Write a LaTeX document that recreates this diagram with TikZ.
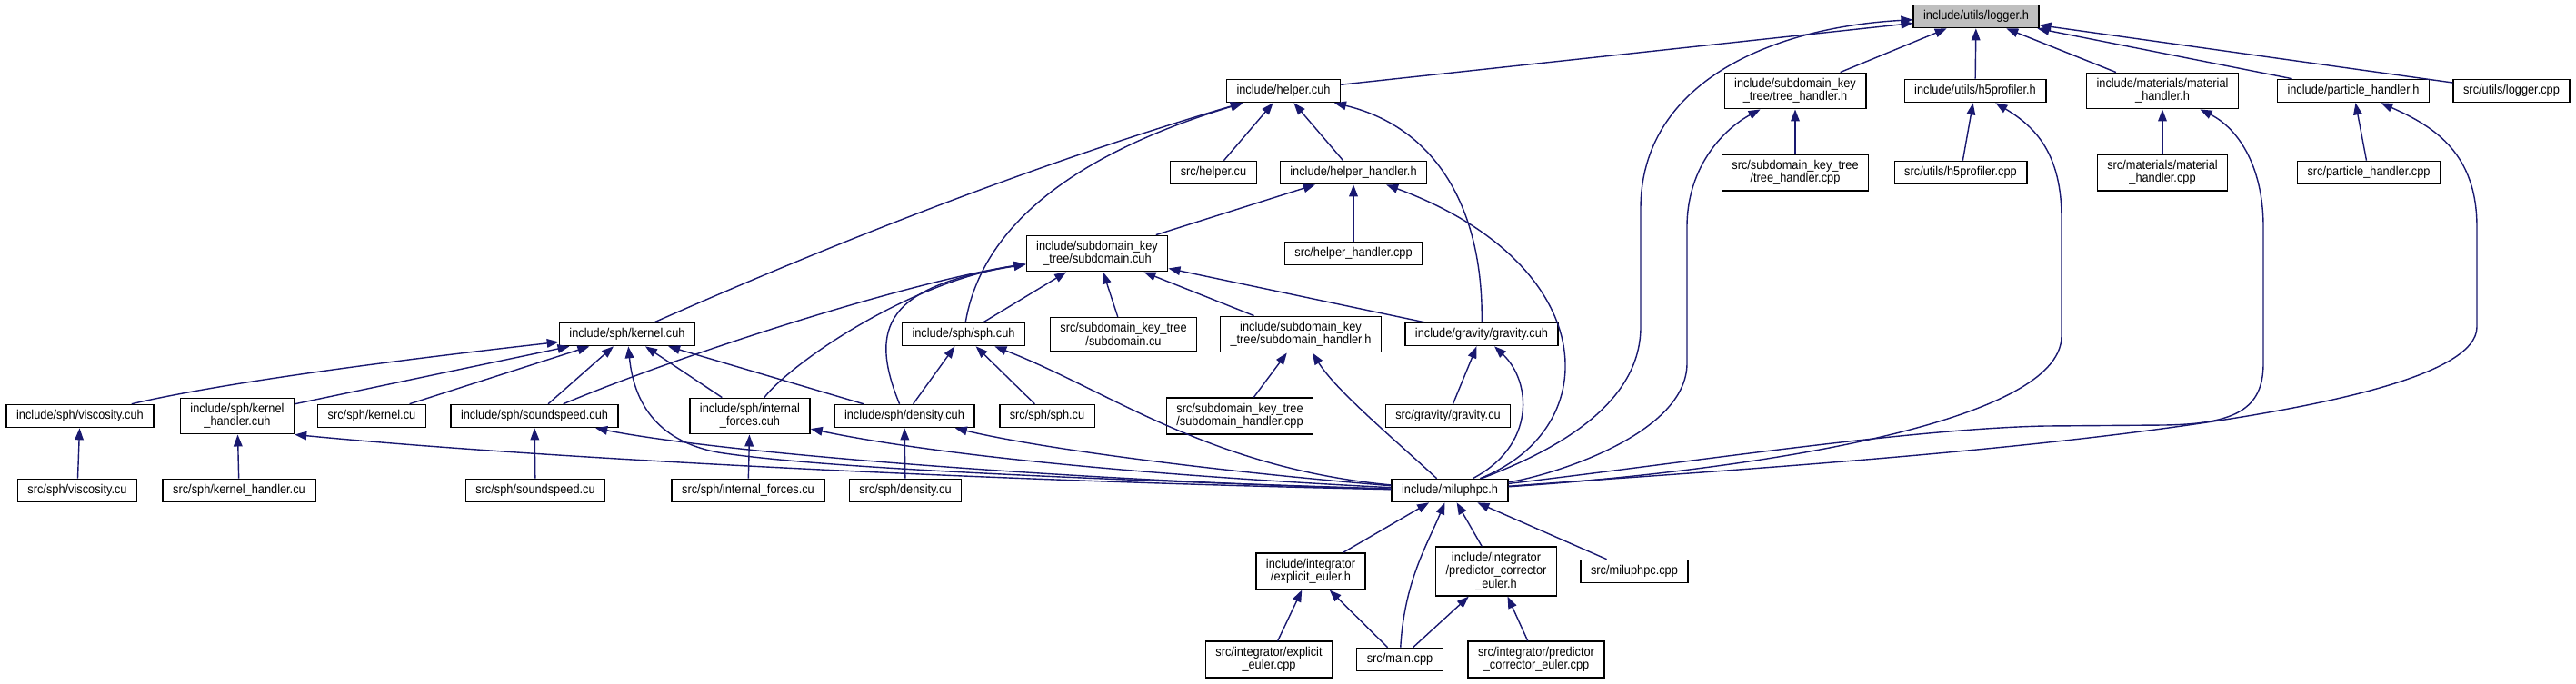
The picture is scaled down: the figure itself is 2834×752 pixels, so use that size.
\documentclass[tikz,border=0pt]{standalone}
\usepackage{fontspec}
\setmainfont{Liberation Sans}[FakeStretch=0.9]
\usetikzlibrary{arrows.meta}
\definecolor{kante}{HTML}{191970}
\definecolor{wurzel}{HTML}{BFBFBF}

\begin{document}
\begin{tikzpicture}[x=0.5pt, y=-0.5pt,
    datei/.style={draw=black, line width=0.7pt, fill=white, align=center,
        font=\fontsize{7.1}{7.2}\selectfont, inner xsep=5.5pt, inner ysep=3pt,
        minimum height=12.5pt},
    dep/.style={draw=kante, line width=0.7pt, -{Triangle[length=6.5pt,width=4.8pt]}}]

    % 0. Rahmen (Bildgroesse in Pixeln des Originals)
    \path[use as bounding box, fill=white] (0,0) rectangle (2834,752);

    % 1. Wurzel und erste Ebene
    \node[datei, fill=wurzel] (logger) at (2174,18) {include/utils/logger.h};
    \node[datei] (helpercuh) at (1412,100) {include/helper.cuh};
    \node[datei] (treeh) at (1975,100) {include/subdomain\_key\\\_tree/tree\_handler.h};
    \node[datei] (hfiveh) at (2173,100) {include/utils/h5profiler.h};
    \node[datei] (materialh) at (2379,100) {include/materials/material\\\_handler.h};
    \node[datei] (particleh) at (2589,100) {include/particle\_handler.h};
    \node[datei] (loggercpp) at (2763,100) {src/utils/logger.cpp};

    % 2. Zweite Ebene
    \node[datei] (helpercu) at (1335,190) {src/helper.cu};
    \node[datei] (helperhh) at (1489,190) {include/helper\_handler.h};
    \node[datei] (treecpp) at (1975,190) {src/subdomain\_key\_tree\\/tree\_handler.cpp};
    \node[datei] (hfivecpp) at (2157,190) {src/utils/h5profiler.cpp};
    \node[datei] (materialcpp) at (2379,190) {src/materials/material\\\_handler.cpp};
    \node[datei] (particlecpp) at (2606,190) {src/particle\_handler.cpp};

    % 3. Subdomain-Ebene
    \node[datei] (subdomaincuh) at (1207,279) {include/subdomain\_key\\\_tree/subdomain.cuh};
    \node[datei] (helperhcpp) at (1489,279) {src/helper\_handler.cpp};

    \node[datei] (kernelcuh) at (690,368) {include/sph/kernel.cuh};
    \node[datei] (sphcuh) at (1060,368) {include/sph/sph.cuh};
    \node[datei] (subdomaincu) at (1236,368) {src/subdomain\_key\_tree\\/subdomain.cu};
    \node[datei] (subdomainhh) at (1431,368) {include/subdomain\_key\\\_tree/subdomain\_handler.h};
    \node[datei] (gravitycuh) at (1630,368) {include/gravity/gravity.cuh};

    % 4. SPH-Ebene
    \node[datei] (viscositycuh) at (88,458) {include/sph/viscosity.cuh};
    \node[datei] (kernelhcuh) at (261,458) {include/sph/kernel\\\_handler.cuh};
    \node[datei] (kernelcu) at (409,458) {src/sph/kernel.cu};
    \node[datei] (soundspeedcuh) at (588,458) {include/sph/soundspeed.cuh};
    \node[datei] (internalcuh) at (825,458) {include/sph/internal\\\_forces.cuh};
    \node[datei] (densitycuh) at (995,458) {include/sph/density.cuh};
    \node[datei] (sphcu) at (1152,458) {src/sph/sph.cu};
    \node[datei] (subdomainhcpp) at (1364,458) {src/subdomain\_key\_tree\\/subdomain\_handler.cpp};
    \node[datei] (gravitycu) at (1593,458) {src/gravity/gravity.cu};

    \node[datei] (viscositycu) at (85,540) {src/sph/viscosity.cu};
    \node[datei] (kernelhcu) at (263,540) {src/sph/kernel\_handler.cu};
    \node[datei] (soundspeedcu) at (589,540) {src/sph/soundspeed.cu};
    \node[datei] (internalcu) at (823,540) {src/sph/internal\_forces.cu};
    \node[datei] (densitycu) at (996,540) {src/sph/density.cu};
    \node[datei] (miluphpch) at (1595,540) {include/miluphpc.h};

    % 5. Integratoren und main
    \node[datei] (expliciteulerh) at (1442,629) {include/integrator\\/explicit\_euler.h};
    \node[datei] (pceulerh) at (1646,629) {include/integrator\\/predictor\_corrector\\\_euler.h};
    \node[datei] (miluphpccpp) at (1798,629) {src/miluphpc.cpp};
    \node[datei] (expliciteulercpp) at (1396,726) {src/integrator/explicit\\\_euler.cpp};
    \node[datei] (maincpp) at (1540,726) {src/main.cpp};
    \node[datei] (pceulercpp) at (1690,726) {src/integrator/predictor\\\_corrector\_euler.cpp};

    % 6. Kanten zur Wurzel
    \draw[dep] (helpercuh) -- (logger);
    \draw[dep] (treeh) -- (logger);
    \draw[dep] (hfiveh) -- (logger);
    \draw[dep] (materialh) -- (logger);
    \draw[dep] (particleh) -- (logger);
    \draw[dep] (loggercpp) -- (logger);
    \draw[dep] (miluphpch) .. controls (1700,500) and (1805,450) .. (1805,360)
        -- (1805,230) .. controls (1805,90) and (1950,30) .. (logger);

    % 7. Kanten der oberen Ebenen
    \draw[dep] (treecpp) -- (treeh);
    \draw[dep] (hfivecpp) -- (hfiveh);
    \draw[dep] (materialcpp) -- (materialh);
    \draw[dep] (particlecpp) -- (particleh);
    \draw[dep] (miluphpch) .. controls (1700,525) and (1856,480) .. (1856,400)
        -- (1856,250) .. controls (1856,180) and (1900,140) .. (treeh);
    \draw[dep] (miluphpch) .. controls (1900,520) and (2268,470) .. (2268,370)
        -- (2268,240) .. controls (2268,170) and (2240,140) .. (hfiveh);
    \draw[dep] (miluphpch) .. controls (1850,510) and (2100,472) .. (2250,469)
        -- (2380,468) .. controls (2460,467) and (2490,450) .. (2490,400)
        -- (2490,250) .. controls (2490,180) and (2460,140) .. (materialh);
    \draw[dep] (miluphpch) .. controls (2000,510) and (2725,470) .. (2725,360)
        -- (2725,250) .. controls (2725,170) and (2680,140) .. (particleh);

    \draw[dep] (helpercu) -- (helpercuh);
    \draw[dep] (helperhh) -- (helpercuh);
    \draw[dep] (kernelcuh) .. controls (930,262) and (1150,177) .. (helpercuh);
    \draw[dep] (sphcuh) .. controls (1080,250) and (1180,170) .. (helpercuh);
    \draw[dep] (gravitycuh) .. controls (1632,230) and (1580,140) .. (helpercuh);

    \draw[dep] (subdomaincuh) -- (helperhh);
    \draw[dep] (helperhcpp) -- (helperhh);
    \draw[dep] (miluphpch) .. controls (1770,470) and (1760,290) .. (helperhh);

    % 8. Kanten zu subdomain.cuh
    \draw[dep] (sphcuh) -- (subdomaincuh);
    \draw[dep] (subdomaincu) -- (subdomaincuh);
    \draw[dep] (subdomainhh) -- (subdomaincuh);
    \draw[dep] (gravitycuh) -- (subdomaincuh);
    \draw[dep] (soundspeedcuh) .. controls (750,390) and (1000,310) .. (subdomaincuh);
    \draw[dep] (internalcuh) .. controls (870,400) and (1000,310) .. (subdomaincuh);
    \draw[dep] (densitycuh) .. controls (955,360) and (975,315) .. (subdomaincuh);

    % 9. Kanten der SPH-Ebene
    \draw[dep] (viscositycuh) .. controls (250,420) and (450,395) .. (kernelcuh);
    \draw[dep] (kernelhcuh) -- (kernelcuh);
    \draw[dep] (kernelcu) -- (kernelcuh);
    \draw[dep] (soundspeedcuh) -- (kernelcuh);
    \draw[dep] (internalcuh) -- (kernelcuh);
    \draw[dep] (densitycuh) -- (kernelcuh);
    \draw[dep] (densitycuh) -- (sphcuh);
    \draw[dep] (sphcu) -- (sphcuh);
    \draw[dep] (subdomainhcpp) -- (subdomainhh);
    \draw[dep] (gravitycu) -- (gravitycuh);

    \draw[dep] (viscositycu) -- (viscositycuh);
    \draw[dep] (kernelhcu) -- (kernelhcuh);
    \draw[dep] (soundspeedcu) -- (soundspeedcuh);
    \draw[dep] (internalcu) -- (internalcuh);
    \draw[dep] (densitycu) -- (densitycuh);

    % 10. Kanten von miluphpc.h
    \draw[dep] (miluphpch) .. controls (1100,525) and (880,512) .. (790,498)
        .. controls (720,485) and (697,440) .. (kernelcuh);
    \draw[dep] (miluphpch) .. controls (1100,530) and (600,505) .. (kernelhcuh.south east);
    \draw[dep] (miluphpch) .. controls (1200,530) and (800,500) .. (soundspeedcuh);
    \draw[dep] (miluphpch) .. controls (1200,520) and (1000,495) .. (internalcuh);
    \draw[dep] (miluphpch) .. controls (1350,520) and (1150,495) .. (densitycuh);
    \draw[dep] (miluphpch) .. controls (1330,515) and (1220,430) .. (sphcuh);
    \draw[dep] (miluphpch) .. controls (1530,480) and (1470,430) .. (subdomainhh);
    \draw[dep] (miluphpch) .. controls (1690,490) and (1685,420) .. (gravitycuh);

    % 11. Untere Ebenen
    \draw[dep] (expliciteulerh) -- (miluphpch);
    \draw[dep] (maincpp) .. controls (1545,640) and (1570,600) .. (miluphpch);
    \draw[dep] (pceulerh) -- (miluphpch);
    \draw[dep] (miluphpccpp) -- (miluphpch);
    \draw[dep] (expliciteulercpp) -- (expliciteulerh);
    \draw[dep] (maincpp) -- (expliciteulerh);
    \draw[dep] (maincpp) -- (pceulerh);
    \draw[dep] (pceulercpp) -- (pceulerh);

\end{tikzpicture}
\end{document}
